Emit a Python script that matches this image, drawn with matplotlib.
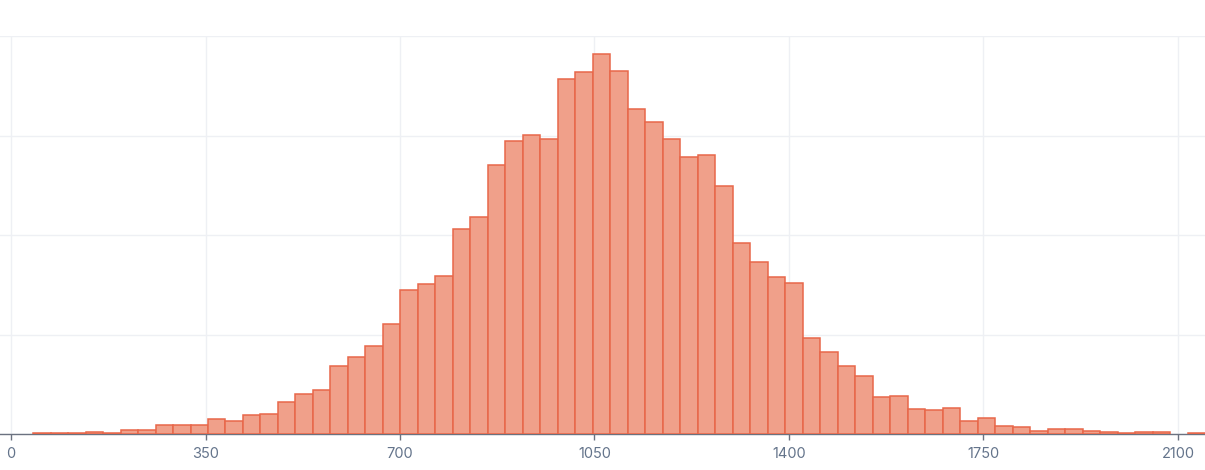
import numpy as np
import matplotlib
matplotlib.use("Agg")
import matplotlib.pyplot as plt

plt.rcParams['font.family'] = ['Inter', 'DejaVu Sans']

# histogram counts per bin
counts = [1, 1, 1, 2, 1.5, 3.7, 4.3, 8.7, 8.7, 9.3,
          14.7, 12.7, 18.7, 20.3, 32, 39.7, 44.7, 68.7, 77.7, 88.7,
          111, 145, 151, 159, 206, 218, 270, 294, 301, 296,
          357, 364, 382, 365, 327, 314, 296, 278, 280, 249,
          192, 173, 158, 152, 96, 82, 68, 58, 37.3, 38.3,
          25, 23.7, 25.7, 13.3, 15.7, 8.3, 6.7, 2.7, 4.7, 4.7,
          2.7, 2, 1, 2, 2.3, 0, 1.3]
bin_min = 39.6
bin_max = 2149.4
x_ticks = [0, 350, 700, 1050, 1400, 1750, 2100]
y_grid = [0, 100, 200, 300, 400]

edges = np.linspace(bin_min, bin_max, len(counts) + 1)
lefts = edges[:-1]
widths = np.diff(edges)
counts = np.array(counts, dtype=float)
mask = counts > 0

fig = plt.figure(figsize=(12.05, 4.70), dpi=100)
ax = fig.add_axes([0, 36 / 470, 1, 398 / 470])

ax.bar(lefts[mask], counts[mask], width=widths[mask], align='edge',
       color='#f0a08a', edgecolor='#e8674a', linewidth=1.1, zorder=3)

ax.set_xlim(-19.8, 2148.6)
ax.set_ylim(0, 400)
ax.set_xticks(x_ticks)
ax.set_xticklabels([str(t) for t in x_ticks])
ax.set_yticks(y_grid)
ax.tick_params(axis='y', left=False, labelleft=False)
ax.tick_params(axis='x', length=4.5, width=1, color='#6b7280', labelsize=10.5,
               labelcolor='#64748b', pad=4.5)
ax.grid(True, color='#eef0f4', linewidth=1, zorder=0)
for s in ['top', 'right', 'left']:
    ax.spines[s].set_visible(False)
ax.spines['bottom'].set_color('#6b7280')
ax.spines['bottom'].set_linewidth(1)
ax.spines['bottom'].set_zorder(2)

fig.savefig('out.png', dpi=100)
